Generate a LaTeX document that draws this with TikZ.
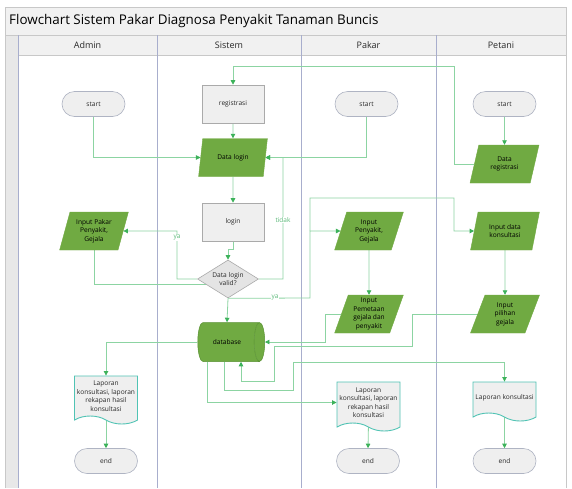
\documentclass[tikz,border=0pt]{standalone}
\usepackage{fontspec}
\setmainfont{Open Sans}
\usetikzlibrary{shapes.geometric,shapes.symbols,shapes.misc,arrows.meta,calc}
\definecolor{lanec}{RGB}{168,174,205}
\definecolor{framec}{RGB}{200,200,200}
\definecolor{hdr}{RGB}{241,241,241}
\definecolor{strip}{RGB}{232,232,232}
\definecolor{flowc}{RGB}{140,212,162}
\definecolor{arrc}{RGB}{60,178,90}
\definecolor{pgreen}{RGB}{112,170,66}
\definecolor{pgreenb}{RGB}{88,145,50}
\definecolor{boxg}{RGB}{239,239,239}
\definecolor{boxb}{RGB}{170,170,170}
\definecolor{termb}{RGB}{175,180,195}
\definecolor{docb}{RGB}{80,195,180}
\definecolor{txt}{RGB}{40,40,40}
\definecolor{lbl}{RGB}{90,185,120}
\pgfdeclarelayer{lanes}\pgfdeclarelayer{edges}\pgfsetlayers{lanes,edges,main}
\tikzset{
  small/.style={font=\fontsize{6.6}{8.5}\selectfont, text=txt, align=center},
  term/.style={small, rectangle, rounded corners=12.5pt, minimum width=63pt, minimum height=25pt, fill=boxg, draw=termb, line width=0.6pt},
  procbox/.style={small, rectangle, minimum width=62pt, minimum height=38pt, fill=boxg, draw=boxb, line width=0.6pt},
  iobox/.style={small, text=black, trapezium, trapezium left angle=72, trapezium right angle=108, trapezium stretches=true, minimum width=69pt, minimum height=38pt, inner sep=0pt, fill=pgreen, draw=pgreen},
  decision/.style={small, diamond, minimum width=61pt, minimum height=38pt, inner sep=0pt, aspect=1.6, fill={rgb,255:red,228;green,228;blue,228}, draw=boxb, line width=0.6pt},
  docbox/.style={small, tape, tape bend top=none, tape bend bottom=out and in, tape bend height=8pt, fill=boxg, draw=docb, line width=0.9pt, minimum width=63pt, inner sep=1pt},
  dbbox/.style={small, text=black, cylinder, shape border rotate=0, aspect=0.9, cylinder uses custom fill, cylinder body fill=pgreen, cylinder end fill=pgreen, draw=pgreenb, line width=0.5pt, minimum width=39pt, minimum height=67pt},
  flow/.style={draw=flowc, line width=0.8pt, -{Triangle[length=4.5pt,width=4.5pt,color=arrc]}},
  plainline/.style={draw=flowc, line width=0.8pt},
  lab/.style={font=\fontsize{6.5}{7}\selectfont, text=lbl, fill=white, inner sep=0.5pt},
  hdrtext/.style={font=\fontsize{9}{10}\selectfont, text=txt}
}
\begin{document}
\begin{tikzpicture}[x=1pt,y=-1pt]
\useasboundingbox (0,0) rectangle (572,488);
\begin{pgfonlayer}{lanes}
\fill[white] (0,0) rectangle (572,488);
\fill[hdr] (5.5,7) rectangle (566.5,35);
\fill[strip] (5.5,35) rectangle (18,488);
\fill[hdr] (18,35) rectangle (566.5,55);
\draw[framec, line width=0.7pt] (5.5,488) -- (5.5,7) -- (566.5,7) -- (566.5,488);
\draw[framec, line width=0.7pt] (5.5,35) -- (566.5,35);
\draw[framec, line width=0.7pt] (18,55) -- (566.5,55);
\draw[lanec, line width=0.9pt] (18,35) -- (18,488);
\draw[lanec, line width=1pt] (157,35) -- (157,488);
\draw[lanec, line width=1pt] (301,35) -- (301,488);
\draw[lanec, line width=1pt] (436,35) -- (436,488);
\node[anchor=west, font=\fontsize{13.4}{15}\selectfont, text=black, inner sep=0pt] (title) at (9,21) {Flowchart Sistem Pakar Diagnosa Penyakit Tanaman Buncis};
\node[hdrtext] (hA) at (87.5,45) {Admin};
\node[hdrtext] (hS) at (229,45) {Sistem};
\node[hdrtext] (hP) at (368.5,45) {Pakar};
\node[hdrtext] (hT) at (501,45) {Petani};
\end{pgfonlayer}

% nodes
\node[term] (sA) at (93.5,104) {start};
\node[procbox] (reg) at (233,104) {registrasi};
\node[iobox] (dl) at (233,157.5) {Data login};
\node[term] (sP) at (366.5,104) {start};
\node[term] (sT) at (504.5,104) {start};
\node[iobox] (dr) at (504.5,164) {Data\\registrasi};
\node[procbox] (lg) at (233,222) {login};
\node[decision] (dv) at (228,279) {Data login\\valid?};
\node[iobox] (ipA) at (94,231) {Input Pakar\\Penyakit,\\Gejala};
\node[iobox] (ipP) at (369,231) {Input\\Penyakit,\\Gejala};
\node[iobox] (idk) at (505,231) {Input data\\konsultasi};
\node[iobox] (ipm) at (369,314) {Input\\Pemetaan\\gejala dan\\penyakit};
\node[iobox] (ipg) at (505,314) {Input\\pilihan\\gejala};
\node[dbbox] (db) at (227,342) {database};
\node[docbox, minimum height=48pt] (docA) at (106,396) {Laporan\\konsultasi, laporan\\rekapan hasil\\konsultasi};
\node[docbox, minimum height=49pt] (docP) at (368.5,402.5) {Laporan\\konsultasi, laporan\\rekapan hasil\\konsultasi};
\node[docbox, minimum height=39pt] (docT) at (504.5,397.5) {Laporan konsultasi};
\node[term] (eA) at (106,461) {end};
\node[term] (eP) at (368,461) {end};
\node[term] (eT) at (504.5,461) {end};

\begin{pgfonlayer}{edges}
\draw[flow] (sA.south) |- (dl.west);
\draw[flow] (sT.south) -- (dr.north);
\draw[flow] (dr.west) -| (454,66) -| (reg.north);
\draw[flow] (reg.south) -- (dl.north);
\draw[flow] (sP.south) |- (dl.east);
\draw[flow] (dv.east) -| (283,157.5) -- (dl.east);
\node[lab] (ltidak) at (283,220) {tidak};
\draw[flow] (dl.south) -- (lg.north);
\draw[flow] (lg.south) |- (228,249) -- (dv.north);
\draw[flow] (dv.west) -| (177,231) -- (ipA.east);
\node[lab] (lya1) at (177,238) {ya};
\draw[plainline] (ipA.south) |- ($(dv.center)+(0,5)$);
\draw[flow] (dv.south) -- (db.north);
\coordinate (j1) at (310,231);
\draw[flow] (dv.south) -- (310,298) -- (j1) -- (ipP.west);
\draw[flow] (j1) -- (310,198) -| (454,231) -- (idk.west);
\node[lab] (lya2) at (275,298) {ya};
\draw[flow] (ipP.south) -- (ipm.north);
\draw[flow] (idk.south) -- (ipg.north);
\draw[flow] (ipm.west) -- ++(-16,0) |- (db.east);
\draw[flow] (ipg.west) -| (412,346) -| (274,381) -| ($(db.south)+(14,0)$);
\draw[flow] ($(db.south)+(-3,0)$) |- (293,390) |- ($(docT.north)+(0,-19)$) -- (docT.north);
\draw[flow] ($(db.south)+(-20,0)$) |- (docP.west);
\draw[flow] (db.west) -| (docA.north);
\draw[flow] (docA.south) -- (eA.north);
\draw[flow] (docP.south) -- (eP.north);
\draw[flow] (docT.south) -- (eT.north);
\end{pgfonlayer}
\end{tikzpicture}
\end{document}
